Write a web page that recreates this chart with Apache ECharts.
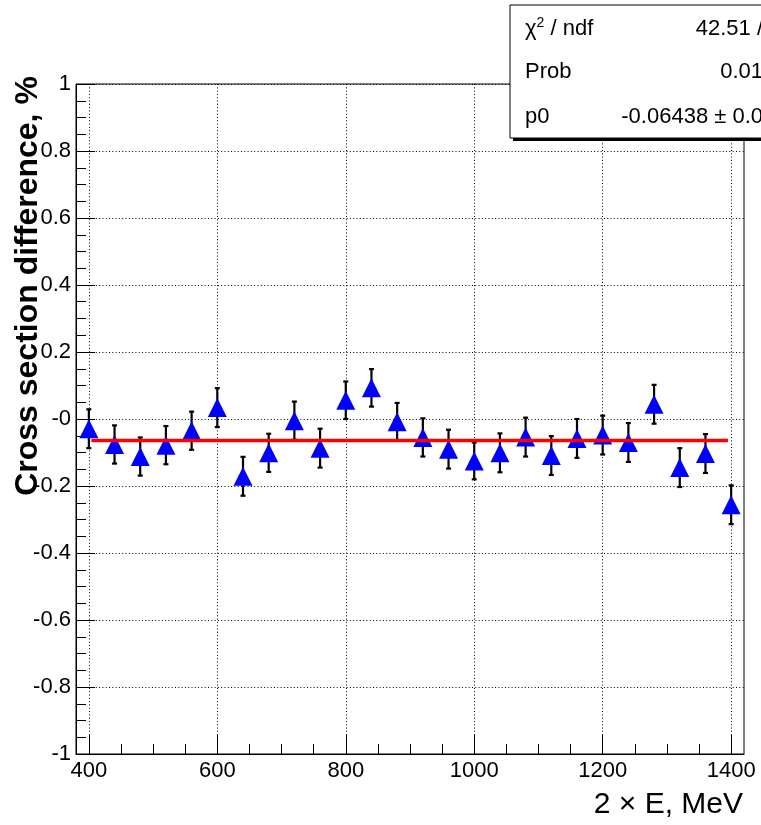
<!DOCTYPE html>
<html>
<head>
<meta charset="utf-8">
<script src="https://cdn.jsdelivr.net/npm/echarts@6/dist/echarts.min.js"></script>
<style>
html,body{margin:0;padding:0;background:#fff;}
#chart{width:761px;height:825px;}
</style>
</head>
<body>
<div id="chart"></div>
<script>
// ---- data ----
var energies = [400,440,480,520,560,600,640,680,720,760,800,840,880,920,960,1000,1040,1080,1120,1160,1200,1240,1280,1320,1360,1400];
var diffValues = [-0.029,-0.076,-0.112,-0.078,-0.035,0.034,-0.171,-0.101,-0.005,-0.087,0.056,0.093,-0.008,-0.055,-0.090,-0.125,-0.101,-0.054,-0.109,-0.058,-0.048,-0.070,0.044,-0.145,-0.103,-0.256];
var diffErrors = [0.058,0.057,0.057,0.057,0.057,0.058,0.058,0.057,0.057,0.058,0.056,0.056,0.056,0.057,0.058,0.055,0.058,0.058,0.058,0.058,0.058,0.058,0.058,0.058,0.058,0.058];
var fitValue = -0.06438;
var fitRange = [404, 1395];
var xMajorTicks = [400,600,800,1000,1200,1400];
var xTickLabels = ['400','600','800','1000','1200','1400'];
var xMinorTicks = [400,450,500,550,600,650,700,750,800,850,900,950,1000,1050,1100,1150,1200,1250,1300,1350,1400];
var yTickLabels = ['-1','-0.8','-0.6','-0.4','-0.2','-0','0.2','0.4','0.6','0.8','1'];
var statsLabels = ['χ', '2', ' / ndf', 'Prob', 'p0'];
var statsValues = ['42.51 /', '0.01', '-0.06438 ± 0.0'];

var FONT = 'Liberation Sans';
var chart = echarts.init(document.getElementById('chart'), null, {renderer:'canvas'});

var pointData = energies.map(function(x,i){ return [x, diffValues[i], diffErrors[i]]; });
var dotted = [1, 2.3];

var option = {
  animation: false,
  backgroundColor: '#fff',
  grid: {left: 76, top: 84, right: 17, bottom: 71, show: true, borderColor: '#000', borderWidth: 1, backgroundColor: 'transparent'},
  xAxis: [{
    type: 'value', min: 380, max: 1420, position: 'bottom',
    axisLine: {show: true, onZero: false, lineStyle: {color: '#000', width: 1}},
    axisTick: {show: true, inside: true, length: 19, customValues: xMajorTicks, lineStyle: {color: '#000', width: 1}},
    axisLabel: {show: true, customValues: xMajorTicks, color: '#000', fontSize: 22, fontFamily: FONT, margin: 6,
      formatter: function(v){ var i = xMajorTicks.indexOf(Math.round(v)); return i >= 0 ? xTickLabels[i] : ''; }},
    splitLine: {show: true, lineStyle: {color: '#000', width: 1, type: dotted}},
    minorTick: {show: false}
  },{
    type: 'value', min: 380, max: 1420, position: 'bottom',
    axisLine: {show: false, onZero: false},
    axisTick: {show: true, inside: true, length: 10, customValues: xMinorTicks, lineStyle: {color: '#000', width: 1}},
    axisLabel: {show: false},
    splitLine: {show: false}
  }],
  yAxis: {
    type: 'value', min: -1, max: 1, interval: 0.2,
    axisLine: {show: true, onZero: false, lineStyle: {color: '#000', width: 1}},
    axisTick: {show: true, inside: true, length: 19, lineStyle: {color: '#000', width: 1}},
    minorTick: {show: true, splitNumber: 4, length: 10, lineStyle: {color: '#000', width: 1}},
    axisLabel: {
      show: true, color: '#000', fontSize: 22, fontFamily: FONT, margin: 5,
      showMinLabel: true, showMaxLabel: true,
      formatter: function(v){ return yTickLabels[Math.round((v + 1) / 0.2)]; }
    },
    splitLine: {show: true, lineStyle: {color: '#000', width: 1, type: dotted}}
  },
  title: {
    text: '2 × E, MeV', right: 18, top: 790, padding: 0,
    textStyle: {fontSize: 30, fontWeight: 'normal', fontFamily: FONT, color: '#000'}
  },
  series: [{
    type: 'custom',
    xAxisIndex: 0,
    data: pointData,
    z: 3,
    renderItem: function(params, api){
      var x = api.value(0), y = api.value(1), e = api.value(2);
      var top = api.coord([x, y + e]);
      var bot = api.coord([x, y - e]);
      var cw = 2.5;
      var st = {stroke: '#000', lineWidth: 2.2};
      return {type: 'group', children: [
        {type: 'line', shape: {x1: top[0], y1: top[1], x2: bot[0], y2: bot[1]}, style: st},
        {type: 'line', shape: {x1: top[0]-cw, y1: top[1], x2: top[0]+cw, y2: top[1]}, style: st},
        {type: 'line', shape: {x1: bot[0]-cw, y1: bot[1], x2: bot[0]+cw, y2: bot[1]}, style: st}
      ]};
    }
  },{
    type: 'scatter',
    xAxisIndex: 0,
    data: pointData.map(function(d){ return [d[0], d[1]]; }),
    symbol: 'triangle', symbolSize: [19, 19],
    itemStyle: {color: '#0000ff', opacity: 1},
    z: 4
  },{
    type: 'line',
    xAxisIndex: 0,
    data: [[fitRange[0], fitValue], [fitRange[1], fitValue]],
    showSymbol: false, symbol: 'none',
    lineStyle: {color: '#ff0000', width: 3.5},
    z: 5
  }],
  graphic: [
    {type: 'text', z: 10,
     rotation: Math.PI/2,
     x: 28, y: 286,
     style: {text: 'Cross section difference, %', font: 'bold 32px "Liberation Sans"', fill: '#000', align: 'center', verticalAlign: 'middle'}},
    {type: 'rect', z: 20, shape: {x: 513, y: 8, width: 260, height: 133}, style: {fill: '#000'}},
    {type: 'rect', z: 21, shape: {x: 510, y: 5, width: 260, height: 133}, style: {fill: '#fff', stroke: '#000', lineWidth: 1}},
    {type: 'text', z: 22, x: 525, y: 29,
     style: {text: '{a|' + statsLabels[0] + '}{s|' + statsLabels[1] + '}{a|' + statsLabels[2] + '}', verticalAlign: 'middle', fill: '#000',
       rich: {a: {fontSize: 22, fontFamily: FONT, lineHeight: 26, fill: '#000'}, s: {fontSize: 14, fontFamily: FONT, verticalAlign: 'top', fill: '#000'}}}},
    {type: 'text', z: 22, x: 525, y: 72, style: {text: statsLabels[3], font: '22px "Liberation Sans"', fill: '#000', verticalAlign: 'middle'}},
    {type: 'text', z: 22, x: 525, y: 117, style: {text: statsLabels[4], font: '22px "Liberation Sans"', fill: '#000', verticalAlign: 'middle'}},
    {type: 'text', z: 22, x: 763, y: 29, style: {text: statsValues[0], font: '22px "Liberation Sans"', fill: '#000', align: 'right', verticalAlign: 'middle'}},
    {type: 'text', z: 22, x: 763, y: 72, style: {text: statsValues[1], font: '22px "Liberation Sans"', fill: '#000', align: 'right', verticalAlign: 'middle'}},
    {type: 'text', z: 22, x: 763, y: 117, style: {text: statsValues[2], font: '22px "Liberation Sans"', fill: '#000', align: 'right', verticalAlign: 'middle'}}
  ]
};
chart.setOption(option);
</script>
</body>
</html>
